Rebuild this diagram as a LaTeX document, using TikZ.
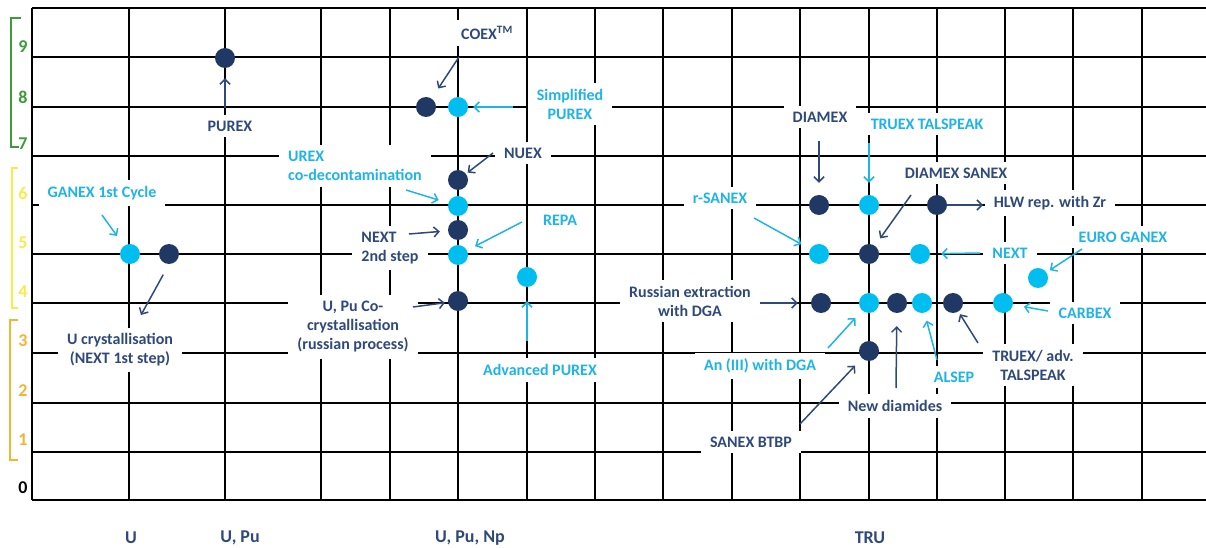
\documentclass[tikz,border=0pt]{standalone}
\usepackage{fontspec}
\setmainfont{Carlito}
\usetikzlibrary{arrows.meta}
\definecolor{navy}{HTML}{1F3864}
\definecolor{sky}{HTML}{00BFF0}
\definecolor{navytext}{HTML}{2F4A7A}
\definecolor{skytext}{HTML}{1FB4E6}
\definecolor{scalegreen}{HTML}{3A9D3A}
\definecolor{scaleyellow}{HTML}{F8EC4A}
\definecolor{scaleorange}{HTML}{F2B534}
\newcommand\lblfont{\fontsize{16bp}{19bp}\selectfont\bfseries}
\newcommand\numfont{\fontsize{18bp}{20bp}\selectfont\bfseries}
\newcommand\axfont{\fontsize{18bp}{21bp}\selectfont\bfseries}
\tikzset{
  lbl/.style={fill=white, inner xsep=9bp, inner ysep=6bp, font=\lblfont, align=center},
  dk/.style={lbl, text=navytext},
  lt/.style={lbl, text=skytext},
  ddot/.style={circle, fill=navy, minimum size=20bp, inner sep=0pt},
  ldot/.style={circle, fill=sky, minimum size=20bp, inner sep=0pt},
  darr/.style={draw=navytext, line width=1.5bp, -{Straight Barb[length=5bp,width=10bp]}},
  larr/.style={draw=skytext, line width=1.5bp, -{Straight Barb[length=5bp,width=10bp]}},
  scalenum/.style={font=\numfont, inner sep=0pt},
  axlbl/.style={font=\axfont, text=navytext, inner sep=0pt},
}
\begin{document}
\begin{tikzpicture}[x=1bp,y=-1bp]
\useasboundingbox[fill=white] (0,0) rectangle (1206,548);

% grid: horizontal levels 0..10
\foreach \yy/\w in {8/1.9,57/1.7,107/1.9,156/1.1,205/1.1,254/1.3,303/1.3,353/1.1,403/1.3,452/1.8,500/1.9}
  \draw[line width=\w bp] (32,\yy) -- (1206,\yy);
% grid: columns
\foreach \xx/\w in {32/1.9,129/1.3,225/1.3,321/1.3,390/1.3,458/1.8,527/1.3,595/1.6,663/1.6,732/1.3,800/1.8,869/1.8,937/1.3,1005/1.8,1073/1.3,1142/1.3}
  \draw[line width=\w bp] (\xx,8) -- (\xx,500);

% level brackets
\draw[scalegreen, line width=1.8bp] (21,18) -- (11,18) -- (11,147) -- (19,147);
\draw[scaleyellow, line width=1.5bp] (18,168) -- (12,168) -- (12,308) -- (18,308);
\draw[scaleorange, line width=1.5bp] (18,320) -- (10,320) -- (10,460) -- (18,460);

% level numbers
\node[scalenum, text=scalegreen] (n9) at (23,47) {9};
\node[scalenum, text=scalegreen] (n8) at (23,97) {8};
\node[scalenum, text=scalegreen] (n7) at (23,144) {7};
\node[scalenum, text=scaleyellow] (n6) at (23,193) {6};
\node[scalenum, text=scaleyellow] (n5) at (23,243) {5};
\node[scalenum, text=scaleyellow] (n4) at (23,292) {4};
\node[scalenum, text=scaleorange] (n3) at (23,341) {3};
\node[scalenum, text=scaleorange] (n2) at (23,391) {2};
\node[scalenum, text=scaleorange] (n1) at (23,440) {1};
\node[scalenum, text=black] (n0) at (23,488) {0};

% element groups
\node[axlbl] (gU) at (131,538) {U};
\node[axlbl] (gUPu) at (240,538) {U, Pu};
\node[axlbl] (gUPuNp) at (470,538) {U, Pu, Np};
\node[axlbl] (gTRU) at (870,538) {TRU};

% process labels
\node[dk] (tPurex) at (230,126) {PUREX};
\node[dk] (tCoex) at (487,33) {COEX\textsuperscript{TM}};
\node[lt] (tSimp) at (570,104) {Simplified\\PUREX};
\node[dk] (tNuex) at (523,153) {NUEX};
\node[lt, align=left] (tUrex) at (355,166) {UREX\\co-decontamination};
\node[lt] (tRepa) at (560,220) {REPA};
\node[dk, align=left] (tNext2) at (390,248) {NEXT\\2nd step};
\node[dk] (tCocr) at (353,327) {U, Pu Co-\\crystallisation\\(russian process)};
\node[lt] (tAdv) at (540,370) {Advanced PUREX};
\node[lt] (tGanex) at (102,193) {GANEX 1st Cycle};
\node[dk] (tUcr) at (120,350) {U crystallisation\\(NEXT 1st step)};

\node[dk] (tDiamex) at (820,117) {DIAMEX};
\node[lt] (tTruex) at (927,124) {TRUEX TALSPEAK};
\node[dk] (tDiSa) at (956,173) {DIAMEX SANEX};
\node[dk] (tHlw) at (1050,203) {HLW rep. with Zr};
\node[lt] (tRsanex) at (720,198) {r-SANEX};
\node[lt] (tNext) at (1010,253) {NEXT};
\node[lt] (tEuro) at (1123,237) {EURO GANEX};
\node[lt] (tCarbex) at (1085,313) {CARBEX};
\node[dk] (tRus) at (690,301) {Russian extraction\\with DGA};
\node[lt] (tAn) at (760,366) {An (III) with DGA};
\node[dk] (tBtbp) at (751,442) {SANEX BTBP};
\node[dk] (tNewd) at (895,406) {New diamides};
\node[lt] (tAlsep) at (954,377) {ALSEP};
\node[dk] (tTadv) at (1033,365) {TRUEX/ adv.\\TALSPEAK};

% process positions
\node[ddot] (dPurex) at (225,58) {};
\node[ddot] (dCoex) at (426,107) {};
\node[ldot] (dSimp) at (458,107) {};
\node[ddot] (dNuex) at (458,180) {};
\node[ldot] (dUrex) at (458,206) {};
\node[ddot] (dNext2) at (458,230) {};
\node[ldot] (dRepa) at (458,255) {};
\node[ldot] (dAdv) at (527,277) {};
\node[ddot] (dCocr) at (458,301) {};
\node[ldot] (dGanex) at (130,254) {};
\node[ddot] (dUcr) at (169,254) {};

\node[ddot] (dDiamex) at (819,205) {};
\node[ldot] (dTruex) at (869,205) {};
\node[ddot] (dHlw) at (937,205) {};
\node[ldot] (dRsanex) at (819,254) {};
\node[ddot] (dDiSa) at (869,254) {};
\node[ldot] (dNext) at (920,254) {};
\node[ldot] (dEuro) at (1038,278) {};
\node[ddot] (dRus) at (821,303) {};
\node[ldot] (dAn) at (869,303) {};
\node[ddot] (dNewd) at (897,303) {};
\node[ldot] (dAlsep) at (922,303) {};
\node[ddot] (dTadv) at (953,303) {};
\node[ldot] (dCarbex) at (1003,303) {};
\node[ddot] (dBtbp) at (869,351) {};

% arrow tails
\coordinate (aPurex) at (225,108);
\coordinate (aCoex) at (459,57);
\coordinate (aSimp) at (513,107);
\coordinate (aNuex) at (493,153);
\coordinate (aUrex) at (406,190);
\coordinate (aNext2) at (409,234);
\coordinate (aRepa) at (522,222);
\coordinate (aAdv) at (527,341);
\coordinate (aCocr) at (413,307);
\coordinate (aGanex) at (102,215);
\coordinate (aUcr) at (141,315);
\coordinate (aDiamex) at (819,141);
\coordinate (aTruex) at (869,143);
\coordinate (aDiSa) at (911,195);
\coordinate (aHlw) at (983,205);
\coordinate (aRsanex) at (754,218);
\coordinate (aNext) at (980,253);
\coordinate (aEuro) at (1082,249);
\coordinate (aCarbex) at (1048,311);
\coordinate (aRus) at (760,303);
\coordinate (aAn) at (828,348);
\coordinate (aBtbp) at (800,424);
\coordinate (aNewd) at (896,388);
\coordinate (aAlsep) at (937,360);
\coordinate (aTadv) at (978,343);

% arrows
\draw[darr, shorten >=10bp] (aPurex) -- (dPurex);
\draw[darr, shorten >=12bp] (aCoex) -- (dCoex);
\draw[larr, shorten >=5bp] (aSimp) -- (dSimp);
\draw[darr, shorten >=2bp] (aNuex) -- (dNuex);
\draw[larr, shorten >=10bp] (aUrex) -- (dUrex);
\draw[darr, shorten >=8bp] (aNext2) -- (dNext2);
\draw[larr, shorten >=9bp] (aRepa) -- (dRepa);
\draw[larr, shorten >=14bp] (aAdv) -- (dAdv);
\draw[darr, shorten >=3bp] (aCocr) -- (dCocr);
\draw[larr, shorten >=12bp] (aGanex) -- (dGanex);
\draw[darr, shorten <=12bp] (dUcr.south) -- (aUcr);

\draw[darr, shorten >=12bp] (aDiamex) -- (dDiamex);
\draw[larr, shorten >=12bp] (aTruex) -- (dTruex);
\draw[darr, shorten >=9bp] (aDiSa) -- (dDiSa);
\draw[darr] (dHlw) -- (aHlw);
\draw[larr, shorten >=10bp] (aRsanex) -- (dRsanex);
\draw[larr, shorten >=11bp] (aNext) -- (dNext);
\draw[larr, shorten >=4bp] (aEuro) -- (dEuro);
\draw[larr, shorten >=11bp] (aCarbex) -- (dCarbex);
\draw[darr, shorten >=13bp] (aRus) -- (dRus);
\draw[larr, shorten >=10bp] (aAn) -- (dAn);
\draw[darr, shorten >=10bp] (aBtbp) -- (dBtbp);
\draw[darr, shorten >=13bp] (aNewd) -- (dNewd);
\draw[larr, shorten >=8bp] (aAlsep) -- (dAlsep);
\draw[darr, shorten >=3bp] (aTadv) -- (dTadv);
\end{tikzpicture}
\end{document}
